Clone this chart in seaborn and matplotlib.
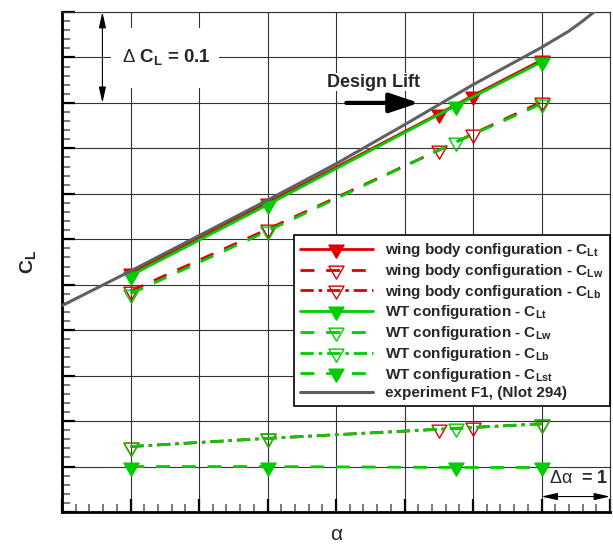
import matplotlib
matplotlib.use("Agg")
import matplotlib.pyplot as plt
import numpy as np
import seaborn as sns
from matplotlib.path import Path
from matplotlib.patches import Rectangle
from matplotlib.ticker import MultipleLocator, NullFormatter

# angle of attack (deg) for each data set
ALPHA_WB = [0.0, 2.0, 4.5, 5.0, 6.0]
ALPHA_WT = [0.0, 2.0, 4.75, 6.0]
ALPHA_EXP = [-1.0, 0.0, 1.0, 2.0, 3.0, 4.0, 5.0, 6.0, 6.4, 6.6, 6.8]

# wing body configuration
WB_CLT = [0.213, 0.290, 0.388, 0.408, 0.447]
WB_CLW = [0.193, 0.261, 0.348, 0.366, 0.401]
WB_CLB = [0.022, 0.031, 0.041, 0.043, 0.047]

# WT configuration
WT_CLT = [0.210, 0.288, 0.397, 0.445]
WT_CLW = [0.190, 0.259, 0.357, 0.399]
WT_CLB = [0.022, 0.031, 0.042, 0.047]
WT_CLST = [0.0, 0.0, -0.001, -0.001]

# experiment F1
EXP_CL = [0.177, 0.215, 0.254, 0.293, 0.333, 0.376, 0.420, 0.461, 0.479, 0.490, 0.502]

RED = "#DD0000"
GREEN = "#00CC00"
GRAY = "#606060"

DASHED = (0, (10, 8.5))
DASHDOT = (0, (9.5, 3.6, 2.5, 3.6))

# down triangle centred on its centroid (tecplot style)
h = np.sqrt(3)
TRI = Path([(-1, h / 3), (1, h / 3), (0, -2 * h / 3), (-1, h / 3)],
           [Path.MOVETO, Path.LINETO, Path.LINETO, Path.CLOSEPOLY])

sns.set_style("white")
plt.rcParams["font.family"] = ["Liberation Sans", "DejaVu Sans"]
plt.rcParams["mathtext.fontset"] = "custom"
plt.rcParams["mathtext.rm"] = "Liberation Sans"
plt.rcParams["mathtext.bf"] = "Liberation Sans:bold"
plt.rcParams["mathtext.it"] = "Liberation Sans:italic"
plt.rcParams["lines.scale_dashes"] = False

fig = plt.figure(figsize=(6.13, 5.49), dpi=100)
ax = fig.add_axes([62 / 613, 37 / 549, 548 / 613, 500 / 549])

series = [
    (r"wing body configuration - $\mathbf{C_{Lt}}$", ALPHA_WB, WB_CLT, RED, "-", True),
    (r"wing body configuration - $\mathbf{C_{Lw}}$", ALPHA_WB, WB_CLW, RED, DASHED, False),
    (r"wing body configuration - $\mathbf{C_{Lb}}$", ALPHA_WB, WB_CLB, RED, DASHDOT, False),
    (r"WT configuration - $\mathbf{C_{Lt}}$", ALPHA_WT, WT_CLT, GREEN, "-", True),
    (r"WT configuration - $\mathbf{C_{Lw}}$", ALPHA_WT, WT_CLW, GREEN, DASHED, False),
    (r"WT configuration - $\mathbf{C_{Lb}}$", ALPHA_WT, WT_CLB, GREEN, DASHDOT, False),
    (r"WT configuration - $\mathbf{C_{Lst}}$", ALPHA_WT, WT_CLST, GREEN, DASHED, True),
]

for i, (label, xs, ys, color, ls, filled) in enumerate(series):
    sns.lineplot(x=xs, y=ys, ax=ax, color=color, linestyle=ls, lw=2.0,
                 marker=TRI, markersize=12.5,
                 markerfacecolor=color if filled else "none",
                 markeredgecolor=color, markeredgewidth=1.0,
                 label=label, zorder=3 + i * 0.1)

sns.lineplot(x=ALPHA_EXP, y=EXP_CL, ax=ax, color=GRAY, lw=2.2,
             label="experiment F1, (Nlot 294)", zorder=4)

ax.set_xlim(-1, 7)
ax.set_ylim(-0.05, 0.5)
ax.xaxis.set_major_locator(MultipleLocator(1))
ax.xaxis.set_minor_locator(MultipleLocator(0.2))
ax.yaxis.set_major_locator(MultipleLocator(0.05))
ax.yaxis.set_minor_locator(MultipleLocator(0.01))
ax.xaxis.set_major_formatter(NullFormatter())
ax.yaxis.set_major_formatter(NullFormatter())
ax.set_axisbelow(True)
ax.grid(True, which="major", color="#333333", lw=0.8)

ax.tick_params(which="major", direction="in", length=9.5, width=1.6, color="k",
               left=True, bottom=True, top=False, right=False)
ax.tick_params(which="minor", direction="in", length=5.5, width=1.1, color="#555555",
               left=True, bottom=True, top=False, right=False)
for side in ("left", "bottom"):
    ax.spines[side].set_linewidth(2.0)
    ax.spines[side].set_color("k")
for side in ("top", "right"):
    ax.spines[side].set_linewidth(0.8)
    ax.spines[side].set_color("#333333")

ax.set_xlabel("α", fontsize=15, labelpad=6)
ax.set_ylabel(r"$\mathbf{C_L}$", fontsize=14, labelpad=14)

# Delta C_L scale marker
ax.add_patch(Rectangle((-0.28, 0.4165), 1.565, 0.066, fc="white", ec="none", zorder=1))
ax.annotate("", xy=(-0.41, 0.5), xytext=(-0.41, 0.4),
            arrowprops=dict(arrowstyle="<|-|>,head_length=0.8,head_width=0.18",
                            color="k", lw=0.8, mutation_scale=12, shrinkA=0, shrinkB=0),
            zorder=5)
ax.text(0.52, 0.451, r"$\mathrm{\Delta}$ $\mathbf{C_L}$ = 0.1", fontsize=13.5,
        fontweight="bold", ha="center", va="center", zorder=5)

# Design lift arrow
ax.text(3.55, 0.423, "Design Lift", fontsize=13, fontweight="bold", ha="center",
        va="center", zorder=5, bbox=dict(fc="white", ec="none", pad=0.5))
ax.annotate("", xy=(4.21, 0.4), xytext=(3.15, 0.4),
            arrowprops=dict(arrowstyle="-|>,head_length=0.9,head_width=0.3",
                            color="k", lw=3, mutation_scale=20, shrinkA=0, shrinkB=0),
            zorder=5)

# Delta alpha scale marker
ax.text(6.54, -0.013, r"$\mathrm{\Delta\alpha}$  = 1", fontsize=13, fontweight="bold",
        ha="center", va="center", zorder=5)
ax.annotate("", xy=(7.0, -0.033), xytext=(6.0, -0.033),
            arrowprops=dict(arrowstyle="<|-|>,head_length=0.8,head_width=0.18",
                            color="k", lw=0.8, mutation_scale=12, shrinkA=0, shrinkB=0),
            zorder=5)

leg = ax.legend(loc="upper right", bbox_to_anchor=(1.0, 0.554),
                prop={"weight": "bold", "size": 11}, frameon=True, fancybox=False,
                edgecolor="k", framealpha=1, handlelength=4.8, handletextpad=0.8,
                labelspacing=0.18, borderpad=0.4, borderaxespad=0)
leg.get_frame().set_linewidth(1.2)
leg.set_zorder(10)

fig.savefig("out.png", dpi=100)
plt.close(fig)
